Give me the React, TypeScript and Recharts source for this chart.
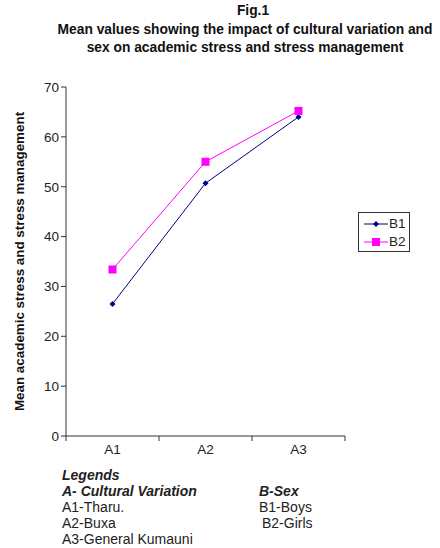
import React from 'react';
import { LineChart, Line, XAxis, YAxis } from 'recharts';

const categories = ['A1', 'A2', 'A3'];
const boys = [26.5, 50.7, 64.0];
const girls = [33.4, 55.0, 65.2];
const yTicks = [0, 10, 20, 30, 40, 50, 60, 70];

const FONT = '"Liberation Sans", Arial, sans-serif';

// points sit in the middle of each category slot, ticks on the boundaries
const data = categories.map((c, i) => ({ name: c, x: i + 0.5, B1: boys[i], B2: girls[i] }));
const xTicks = [0, 0.5, 1, 1.5, 2, 2.5, 3];

const XTick = (props: any) => {
  const { x, y, payload } = props;
  const v = payload.value;
  if (Number.isInteger(v)) {
    return <line x1={x} x2={x} y1={y - 8} y2={y - 3} stroke="#333" />;
  }
  return (
    <text x={x} y={y + 10} textAnchor="middle" fontSize={13.5} fill="#222" fontFamily={FONT}>
      {categories[Math.floor(v)]}
    </text>
  );
};

const Diamond = (props: any) => {
  const { cx, cy } = props;
  if (cx == null) return null;
  return <path d={`M${cx},${cy - 3}L${cx + 3},${cy}L${cx},${cy + 3}L${cx - 3},${cy}Z`} fill="#000080" />;
};

const Square = (props: any) => {
  const { cx, cy } = props;
  if (cx == null) return null;
  return <rect x={cx - 4} y={cy - 4} width={8} height={8} fill="#ff00ff" />;
};

const LegendBox = () => (
  <div style={{ position: 'absolute', left: 358, top: 212, border: '1px solid #333', width: 50, height: 38, fontFamily: FONT, fontSize: 13.5, color: '#222', background: '#fff' }}>
    <div style={{ display: 'flex', alignItems: 'center', height: 19, marginTop: 1 }}>
      <svg width={30} height={10}>
        <line x1={5} x2={29} y1={5} y2={5} stroke="#000080" />
        <path d="M17,2L20,5L17,8L14,5Z" fill="#000080" />
      </svg>
      <span>B1</span>
    </div>
    <div style={{ display: 'flex', alignItems: 'center', height: 17 }}>
      <svg width={30} height={10}>
        <line x1={5} x2={29} y1={5} y2={5} stroke="#ff00ff" />
        <rect x={13} y={1} width={8} height={8} fill="#ff00ff" />
      </svg>
      <span>B2</span>
    </div>
  </div>
);

export default function App() {
  return (
    <div style={{ position: 'absolute', left: 0, top: 0, width: 440, height: 548, background: '#fff', fontFamily: FONT, overflow: 'hidden' }}>
      <div style={{ position: 'absolute', left: 40, width: 410, top: 2, textAlign: 'center', fontWeight: 'bold', fontSize: 13.8, lineHeight: '18.5px', color: '#111' }}>
        <div style={{ paddingLeft: 16 }}>Fig.1</div>
        <div>Mean values showing the impact of cultural variation and</div>
        <div>sex on academic stress and stress management</div>
      </div>

      <div style={{ position: 'absolute', left: 0, top: 0 }}>
        <LineChart width={440} height={548} data={data} margin={{ top: 87, right: 95, bottom: 82, left: 0 }}>
          <XAxis
            dataKey="x"
            type="number"
            domain={[0, 3]}
            ticks={xTicks}
            interval={0}
            tickLine={false}
            tick={<XTick />}
            stroke="#333"
            height={30}
          />
          <YAxis
            domain={[0, 70]}
            ticks={yTicks}
            interval={0}
            width={66}
            tickSize={5}
            stroke="#333"
            tick={{ fill: '#222', fontSize: 13.5, fontFamily: FONT }}
            label={{
              value: 'Mean academic stress and stress management',
              angle: -90,
              position: 'insideLeft',
              dx: 14,
              dy: 0,
              style: { textAnchor: 'middle', fontWeight: 'bold', fontSize: 13.4, fill: '#111', fontFamily: FONT },
            }}
          />
          <Line dataKey="B1" stroke="#000080" strokeWidth={1} dot={<Diamond />} activeDot={false} isAnimationActive={false} />
          <Line dataKey="B2" stroke="#ff00ff" strokeWidth={1} dot={<Square />} activeDot={false} isAnimationActive={false} />
        </LineChart>
      </div>

      <LegendBox />

      <div style={{ position: 'absolute', left: 62, top: 467, fontSize: 14, lineHeight: '16px', color: '#222' }}>
        <div style={{ fontWeight: 'bold', fontStyle: 'italic' }}>Legends</div>
        <div style={{ fontWeight: 'bold', fontStyle: 'italic' }}>A- Cultural Variation</div>
        <div>A1-Tharu.</div>
        <div>A2-Buxa</div>
        <div>A3-General Kumauni</div>
      </div>
      <div style={{ position: 'absolute', left: 259, top: 483, fontSize: 14, lineHeight: '16px', color: '#222' }}>
        <div style={{ fontWeight: 'bold', fontStyle: 'italic' }}>B-Sex</div>
        <div>B1-Boys</div>
        <div style={{ paddingLeft: 3 }}>B2-Girls</div>
      </div>
    </div>
  );
}
